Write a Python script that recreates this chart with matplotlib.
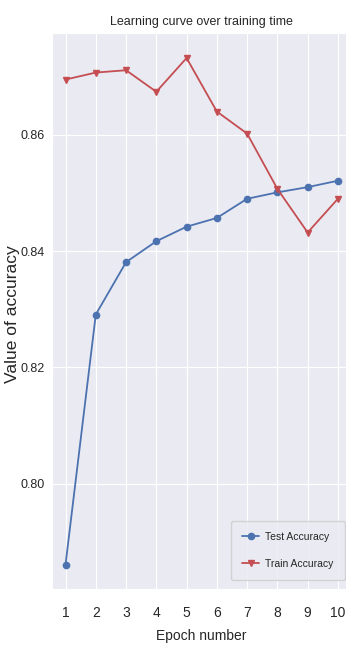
import matplotlib
matplotlib.use("Agg")
import matplotlib.pyplot as plt
import seaborn as sns

epochs = [1, 2, 3, 4, 5, 6, 7, 8, 9, 10]
test_acc = [0.7861, 0.8291, 0.8381, 0.8417, 0.8442, 0.8457, 0.8490, 0.8501, 0.8510, 0.8521]
train_acc = [0.8695, 0.8707, 0.8711, 0.8674, 0.8732, 0.8640, 0.8602, 0.8507, 0.8432, 0.8490]
yticks = [0.80, 0.82, 0.84, 0.86]

sns.set_style("darkgrid")
plt.rcParams['font.family'] = ['Liberation Sans', 'DejaVu Sans']

fig = plt.figure(figsize=(3.46, 6.46), dpi=100)
ax = fig.add_axes([0.150, 0.0882, 1.016 - 0.150, 0.9489 - 0.0882])

ax.plot(epochs, test_acc, color='#4C72B0', marker='o', markersize=4.5, linewidth=1.3, label='Test Accuracy')
ax.plot(epochs, train_acc, color='#C44E52', marker='v', markersize=5, linewidth=1.3, label='Train Accuracy')

ax.set_xlim(0.55, 10.45)
ax.set_ylim(0.7819, 0.8775)
ax.set_xticks(epochs)
ax.set_yticks(yticks)
ax.set_yticklabels([f"{v:.2f}" for v in yticks])
ax.tick_params(axis='x', labelsize=10, colors='#262626', pad=12, length=0)
ax.tick_params(axis='y', labelsize=9, colors='#262626', pad=5, length=0)

ax.set_title('Learning curve over training time', fontsize=9, color='#262626', pad=6)
ax.set_xlabel('Epoch number', fontsize=10, color='#262626', labelpad=7)
ax.set_ylabel('Value of accuracy', fontsize=12.5, color='#262626')
ax.yaxis.set_label_coords(-0.108, 0.494)

ax.legend(loc='lower right', fontsize=7.5, frameon=True, bbox_to_anchor=(0.978, 0.016),
          borderaxespad=0, handlelength=1.6, labelspacing=1.6, borderpad=1.1,
          handletextpad=0.6)

fig.savefig('out.png', dpi=100)
